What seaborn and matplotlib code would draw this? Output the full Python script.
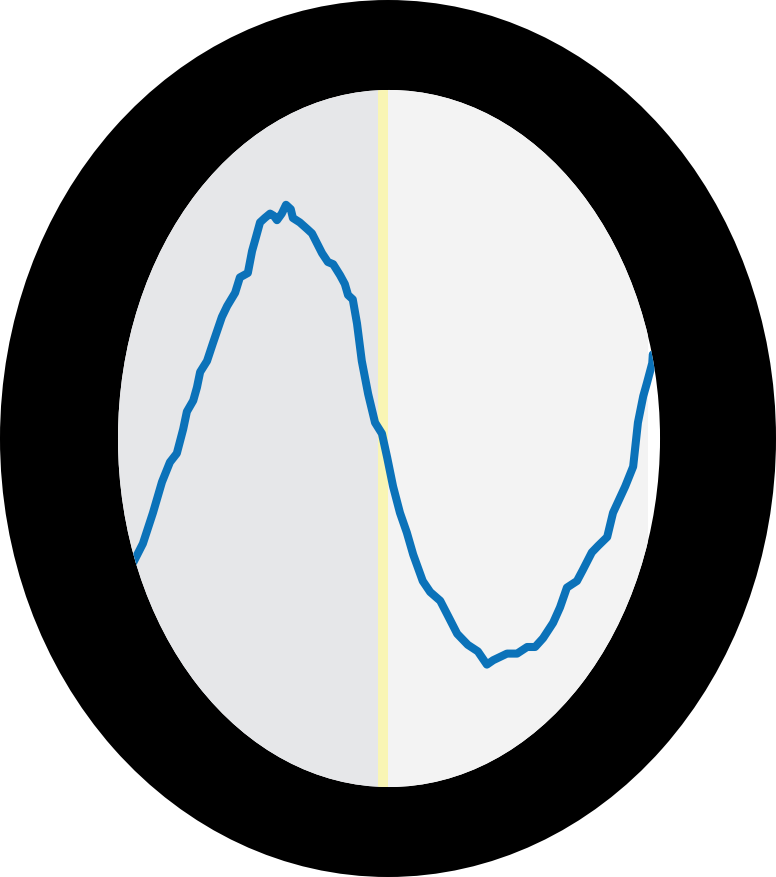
import numpy as np
import pandas as pd
import seaborn as sns
import matplotlib.pyplot as plt
from matplotlib.patches import Ellipse

# Signal trace (time in s, amplitude in arbitrary units)
time_s = [0.28, 0.47, 0.66, 0.83, 0.98, 1.11, 1.23, 1.30, 1.42, 1.49,
          1.55, 1.68, 1.79, 1.96, 2.06, 2.21, 2.30, 2.45, 2.53, 2.60,
          2.68, 2.77, 2.87, 2.94, 3.00, 3.09, 3.17, 3.26, 3.30, 3.43,
          3.57, 3.66, 3.85, 3.96, 4.06, 4.19, 4.28, 4.34, 4.43, 4.51,
          4.60, 4.72, 4.85, 4.98, 5.08, 5.19, 5.32, 5.45, 5.57, 5.75,
          5.89, 6.08, 6.23, 6.40, 6.60, 6.79, 6.96, 7.08, 7.34, 7.53,
          7.72, 7.87, 8.02, 8.21, 8.34, 8.47, 8.66, 8.77, 8.94, 9.06,
          9.23, 9.34, 9.57, 9.72, 9.81, 9.91, 9.98, 10.08, 10.09]
amplitude = [-0.57, -0.48, -0.34, -0.20, -0.11, -0.07, 0.04, 0.12, 0.17, 0.23,
             0.30, 0.35, 0.43, 0.55, 0.60, 0.66, 0.73, 0.75, 0.85, 0.91,
             0.98, 1.00, 1.02, 1.01, 0.99, 1.02, 1.06, 1.04, 1.00, 0.98,
             0.95, 0.93, 0.84, 0.80, 0.79, 0.74, 0.70, 0.65, 0.63, 0.52,
             0.35, 0.20, 0.07, 0.02, -0.09, -0.22, -0.34, -0.43, -0.53, -0.65,
             -0.70, -0.74, -0.81, -0.89, -0.94, -0.97, -1.03, -1.01, -0.98, -0.98,
             -0.95, -0.95, -0.91, -0.84, -0.77, -0.68, -0.65, -0.60, -0.52, -0.49,
             -0.45, -0.34, -0.22, -0.13, 0.07, 0.19, 0.25, 0.34, 0.38]

# shaded phases (s)
phase_a = (-3.0, 4.9)
marker_band = (4.9, 5.1)
phase_b = (5.1, 10.0)

df = pd.DataFrame({"time": time_s, "amplitude": amplitude})

sns.set_style("white")
fig = plt.figure(figsize=(7.76, 8.77), dpi=100)
ax = fig.add_axes([0, 0, 1, 1])
ax.set_xlim(-2.226, 12.415)
ax.set_ylim(-1.9955, 1.9909)
ax.axis("off")

# letter "O" frame
outer = Ellipse((0.5, 0.5), 1.0, 1.0, transform=ax.transAxes,
                facecolor="black", edgecolor="none", zorder=0)
inner = Ellipse((0.5013, 0.5), 0.6985, 0.7948, transform=ax.transAxes,
                facecolor="white", edgecolor="none", zorder=1)
ax.add_patch(outer)
ax.add_patch(inner)

spans = [
    ax.axvspan(*phase_a, color="#e6e7e9", lw=0, zorder=2),
    ax.axvspan(*marker_band, color="#f9f5b4", lw=0, zorder=2),
    ax.axvspan(*phase_b, color="#f3f3f3", lw=0, zorder=2),
]
for s in spans:
    s.set_clip_path(inner)

sns.lineplot(data=df, x="time", y="amplitude", ax=ax, color="#0b72b9",
             linewidth=5.8, sort=False, zorder=3)
line = ax.lines[-1]
line.set_solid_joinstyle("round")
line.set_solid_capstyle("round")
line.set_clip_path(inner)

fig.savefig("out.png", dpi=100)
